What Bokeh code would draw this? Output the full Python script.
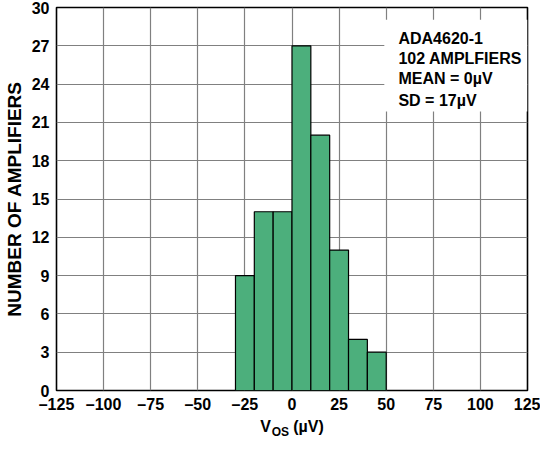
from bokeh.plotting import figure
from bokeh.models import Range1d, FixedTicker, Label, BoxAnnotation, LinearAxis
from bokeh.embed import file_html
from bokeh.resources import INLINE

# ---- data ----
bin_left = [-30, -20, -10, 0, 10, 20, 30, 40]
bin_right = [-20, -10, 0, 10, 20, 30, 40, 50]
counts = [9, 14, 14, 27, 20, 11, 4, 3]

x_ticks = [-125, -100, -75, -50, -25, 0, 25, 50, 75, 100, 125]
x_tick_labels = ["\u2013125", "\u2013100", "\u201375", "\u201350", "\u201325", "0", "25", "50", "75", "100", "125"]
y_ticks = [0, 3, 6, 9, 12, 15, 18, 21, 24, 27, 30]

annot_lines = ["ADA4620-1", "102 AMPLFIERS", "MEAN = 0\u00b5V", "SD = 17\u00b5V"]
annot_y = [27.6, 26.0, 24.4, 22.75]

x_label_main = "V" + "\u00a0" * 5 + "(\u00b5V)"
x_label_sub = "OS" + "\u00a0" * 7

FONT = "Liberation Sans"
BAR = "#4caf7c"
GRID = "#808080"

p = figure(width=540, height=441, x_range=Range1d(-125, 125), y_range=Range1d(0, 30),
           output_backend="svg", toolbar_location=None,
           min_border_left=52, min_border_right=13, min_border_top=7, min_border_bottom=40)

p.quad(left=bin_left, right=bin_right, top=counts, bottom=0,
       fill_color=BAR, line_color="black", line_width=1.2)

p.xaxis.ticker = FixedTicker(ticks=x_ticks)
p.yaxis.ticker = FixedTicker(ticks=y_ticks)
p.xaxis.major_label_overrides = {t: s for t, s in zip(x_ticks, x_tick_labels)}
p.xgrid.ticker = FixedTicker(ticks=x_ticks)
p.ygrid.ticker = FixedTicker(ticks=y_ticks)
p.grid.grid_line_color = GRID
p.grid.grid_line_width = 1.2

p.outline_line_color = "black"
p.outline_line_width = 1.6
p.outline_line_alpha = 1

for ax in (p.xaxis, p.yaxis):
    ax.axis_line_color = None
    ax.major_tick_line_color = None
    ax.minor_tick_line_color = None
    ax.major_tick_out = 0
    ax.major_tick_in = 0
    ax.minor_tick_out = 0
    ax.major_label_text_font = FONT
    ax.major_label_text_font_style = "bold"
    ax.major_label_text_font_size = "16px"
    ax.major_label_text_color = "black"
    ax.axis_label_text_font = FONT
    ax.axis_label_text_font_style = "bold"
    ax.axis_label_text_color = "black"

p.xaxis.major_label_standoff = 5
p.xaxis.major_label_text_line_height = 1.0
p.yaxis.major_label_standoff = 7
p.yaxis.axis_label = "NUMBER OF AMPLIFIERS"
p.yaxis.axis_label_text_font_size = "19px"
p.yaxis.axis_label_standoff = 4

p.xaxis.axis_label = x_label_main
p.xaxis.axis_label_text_font_size = "16px"
p.xaxis.axis_label_text_line_height = 1.0
p.xaxis.axis_label_standoff = 2

# subscript "OS": label of a tick-less second axis pulled up beside the main label
sub_ax = LinearAxis(ticker=FixedTicker(ticks=[]), axis_label=x_label_sub,
                    axis_label_standoff=-13, axis_line_color=None,
                    major_tick_line_color=None, minor_tick_line_color=None,
                    major_tick_out=0, major_tick_in=0, minor_tick_out=0,
                    major_label_standoff=0,
                    axis_label_text_font=FONT, axis_label_text_font_style="bold",
                    axis_label_text_font_size="12px", axis_label_text_line_height=1.0,
                    axis_label_text_color="black")
p.add_layout(sub_ax, "below")

# legend box
box = BoxAnnotation(left=49, right=125, bottom=21.85, top=29.05,
                    fill_color="white", fill_alpha=1, line_color=None)
p.add_layout(box)
for txt, yy in zip(annot_lines, annot_y):
    p.add_layout(Label(x=56.5, y=yy, text=txt, text_font=FONT, text_font_style="bold",
                       text_font_size="16px", text_baseline="middle", text_align="left",
                       text_color="black"))

open("out.html", "w").write(file_html(p, INLINE))
